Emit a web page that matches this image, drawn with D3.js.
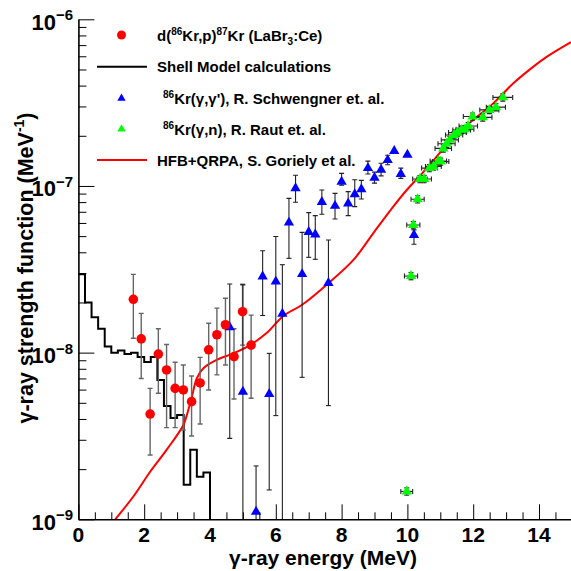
<!DOCTYPE html>
<html>
<head>
<meta charset="utf-8">
<script src="https://cdn.jsdelivr.net/npm/d3@7"></script>
<style>
  body { margin: 0; background: #fff; }
  text { font-family: "Liberation Sans", Arial, sans-serif; font-weight: bold; }
</style>
</head>
<body>
<div id="chart"></div>
<script>
// ---- data ----
// d(86Kr,p)87Kr (LaBr3:Ce)
var expE   = [1.67, 1.91, 2.18, 2.43, 2.68, 2.94, 3.19, 3.44, 3.70, 3.96, 4.21, 4.47, 4.73, 4.99, 5.25];
var expVal = [2.09e-8, 1.21e-8, 4.28e-9, 9.8e-9, 7.87e-9, 6.1e-9, 5.97e-9, 5.08e-9, 6.58e-9, 1.04e-8, 1.28e-8, 1.47e-8, 9.46e-9, 1.76e-8, 1.11e-8];
var expHi  = [2.95e-8, 1.72e-8, 6.1e-9, 1.39e-8, 1.12e-8, 8.75e-9, 8.43e-9, 7.24e-9, 9.37e-9, 1.50e-8, 1.85e-8, 2.12e-8, 1.39e-8, 2.57e-8, 1.68e-8];
var expLo  = [1.22e-8, 7.0e-9, 2.43e-9, 5.7e-9, 3.55e-9, 3.55e-9, 3.43e-9, 3.16e-9, 3.73e-9, 5.97e-9, 7.35e-9, 8.43e-9, 5.27e-9, 1.11e-8, 5.32e-9];

// Shell model histogram, 0.2 MeV bins starting at 0
var smBinStart = [0, 0.2, 0.4, 0.6, 0.8, 1.0, 1.2, 1.4, 1.6, 1.8, 2.0, 2.2, 2.4, 2.6, 2.8, 3.0, 3.2, 3.4, 3.6, 3.8];
var smVal = [2.95e-8, 2.0e-8, 1.63e-8, 1.39e-8, 1.09e-8, 1.0e-8, 1.03e-8, 9.8e-9, 1.0e-8, 9.4e-9, 8.8e-9, 9.4e-9, 6.86e-9, 4.79e-9, 4.06e-9, 4.23e-9, 1.61e-9, 2.61e-9, 1.80e-9, 1.91e-9];
var smEnd = 4.0;

// 86Kr(g,g'), Schwengner
var schE   = [4.6, 5.0, 5.4, 5.6, 5.8, 6.0, 6.2, 6.4, 6.6, 6.8, 7.0, 7.2, 7.4, 7.6, 7.8, 8.0, 8.2, 8.4, 8.6, 8.8, 9.0, 9.2, 9.4, 9.6, 9.8, 10.0, 10.2];
var schVal = [1.42e-8, 5.83e-9, 1.11e-9, 2.86e-8, 5.65e-9, 2.67e-8, 1.71e-8, 6.03e-8, 9.68e-8, 2.96e-8, 5.30e-8, 5.12e-8, 8.02e-8, 2.62e-8, 7.60e-8, 1.06e-7, 7.85e-8, 8.91e-8, 9.55e-8, 1.28e-7, 1.12e-7, 1.25e-7, 1.43e-7, 1.62e-7, 1.18e-7, 1.54e-7, 5.08e-8];
var schHi  = [2.58e-8, 2.55e-8, 2.09e-9, 4.09e-8, 9.9e-9, 4.97e-8, 3.37e-8, 8.43e-8, 1.16e-7, 5.27e-8, 6.92e-8, 6.64e-8, 9.46e-8, 4.74e-8, 9.03e-8, 1.19e-7, 9.25e-8, 1.09e-7, 1.08e-7, 1.41e-7, 1.21e-7, 1.37e-7, 1.53e-7, 1.62e-7, 1.28e-7, 1.54e-7, 5.45e-8];
var schLo  = [3.06e-9, 1e-10, 1e-10, 1.67e-8, 1.50e-9, 4.19e-9, 1e-10, 3.68e-8, 7.98e-8, 7.11e-9, 3.73e-8, 3.63e-8, 6.76e-8, 4.81e-9, 6.34e-8, 1.01e-7, 6.64e-8, 7.52e-8, 8.36e-8, 1.18e-7, 1.04e-7, 1.15e-7, 1.34e-7, 1.62e-7, 1.11e-7, 1.54e-7, 4.47e-8];

// 86Kr(g,n), Raut
var rautE   = [9.98, 10.11, 10.18, 10.31, 10.38, 10.51, 10.67, 10.79, 10.94, 11.01, 11.09, 11.19, 11.29, 11.42, 11.52, 11.65, 11.75, 11.85, 11.98, 12.29, 12.49, 12.69, 12.90];
var rautVal = [1.47e-9, 2.88e-8, 5.83e-8, 8.32e-8, 1.10e-7, 1.10e-7, 1.28e-7, 1.31e-7, 1.41e-7, 1.40e-7, 1.68e-7, 1.79e-7, 1.89e-7, 2.02e-7, 2.09e-7, 2.17e-7, 2.19e-7, 2.29e-7, 2.61e-7, 2.58e-7, 2.86e-7, 2.97e-7, 3.40e-7];
var rautEx  = [0.18, 0.2, 0.2, 0.2, 0.22, 0.22, 0.24, 0.24, 0.25, 0.25, 0.25, 0.26, 0.26, 0.26, 0.27, 0.27, 0.27, 0.28, 0.28, 0.28, 0.29, 0.29, 0.3];
var rautRel = 0.05;

// HFB+QRPA, Goriely
var hfbE   = [1.12, 1.67, 2.18, 2.68, 3.19, 3.34, 3.44, 3.60, 3.80, 4.20, 4.71, 5.22, 5.72, 6.23, 6.79, 7.60, 8.36, 8.96, 9.57, 9.98, 10.38, 10.89, 11.40, 12.0, 12.61, 13.22, 13.83, 14.23, 14.97];
var hfbVal = [1e-9, 1.37e-9, 1.93e-9, 2.61e-9, 3.68e-9, 4.53e-9, 5.32e-9, 7.02e-9, 8.06e-9, 9.04e-9, 9.9e-9, 1.11e-8, 1.31e-8, 1.66e-8, 1.93e-8, 2.61e-8, 3.6e-8, 5.2e-8, 7.52e-8, 9.46e-8, 1.15e-7, 1.50e-7, 1.98e-7, 2.49e-7, 3.13e-7, 4.13e-7, 5.2e-7, 5.95e-7, 7.3e-7];

var xMajor = [0, 2, 4, 6, 8, 10, 12, 14];
var yDecades = [1e-9, 1e-8, 1e-7, 1e-6];
var yExp = ["9", "8", "7", "6"];

// ---- drawing ----
var W = 571, H = 571;
var x = d3.scaleLinear().domain([0, 15]).range([78.4, 571.9]);
var y = d3.scaleLog().domain([1e-9, 1e-6]).range([519.3, 19.3]);

var svg = d3.select("#chart").append("svg")
    .attr("width", W).attr("height", H);

svg.append("clipPath").attr("id", "clip")
  .append("rect")
    .attr("x", x(0)).attr("y", y(1e-6))
    .attr("width", x(15) - x(0)).attr("height", y(1e-9) - y(1e-6));

var plot = svg.append("g").attr("clip-path", "url(#clip)");

// shell model histogram
var smPts = smBinStart.map(function(e, i) { return [e, smVal[i]]; });
smPts.push([smEnd, 1e-10]);
plot.append("path")
    .datum(smPts)
    .attr("fill", "none")
    .attr("stroke", "#000")
    .attr("stroke-width", 2)
    .attr("d", d3.line()
      .x(function(d) { return x(d[0]); })
      .y(function(d) { return y(d[1]); })
      .curve(d3.curveStepAfter));

// HFB curve
plot.append("path")
    .datum(hfbE.map(function(e, i) { return [e, hfbVal[i]]; }))
    .attr("fill", "none")
    .attr("stroke", "#ff0000")
    .attr("stroke-width", 2)
    .attr("d", d3.line()
      .x(function(d) { return x(d[0]); })
      .y(function(d) { return y(d[1]); })
      .curve(d3.curveCatmullRom.alpha(0.5)));

// vertical error bars with caps
function yErrors(g, es, lo, hi, color, w) {
  es.forEach(function(e, i) {
    if (hi[i] <= lo[i]) return;
    var cx = x(e), y1 = y(hi[i]), y2 = y(lo[i]);
    g.append("line").attr("x1", cx).attr("x2", cx).attr("y1", y1).attr("y2", y2)
      .attr("stroke", color).attr("stroke-width", w);
    [y1, y2].forEach(function(yy) {
      g.append("line").attr("x1", cx - 2.5).attr("x2", cx + 2.5).attr("y1", yy).attr("y2", yy)
        .attr("stroke", color).attr("stroke-width", w);
    });
  });
}

var errs = plot.append("g");
yErrors(errs, expE, expLo, expHi, "#666", 1.4);
yErrors(errs, schE, schLo, schHi, "#222", 1.1);

// Raut x and y errors
rautE.forEach(function(e, i) {
  var cy = y(rautVal[i]), x1 = x(e - rautEx[i]), x2 = x(e + rautEx[i]);
  errs.append("line").attr("x1", x1).attr("x2", x2).attr("y1", cy).attr("y2", cy)
    .attr("stroke", "#222").attr("stroke-width", 1.1);
  [x1, x2].forEach(function(xx) {
    errs.append("line").attr("x1", xx).attr("x2", xx).attr("y1", cy - 2.5).attr("y2", cy + 2.5)
      .attr("stroke", "#222").attr("stroke-width", 1.1);
  });
  var cx = x(e), ya = y(rautVal[i] * (1 + rautRel)), yb = y(rautVal[i] * (1 - rautRel));
  errs.append("line").attr("x1", cx).attr("x2", cx).attr("y1", ya).attr("y2", yb)
    .attr("stroke", "#222").attr("stroke-width", 1.1);
  [ya, yb].forEach(function(yy) {
    errs.append("line").attr("x1", cx - 2.5).attr("x2", cx + 2.5).attr("y1", yy).attr("y2", yy)
      .attr("stroke", "#222").attr("stroke-width", 1.1);
  });
});

var tri = d3.symbol().type(d3.symbolTriangle).size(46);

plot.append("g").selectAll("path")
  .data(schE.map(function(e, i) { return [e, schVal[i]]; }))
  .enter().append("path")
    .attr("d", tri)
    .attr("transform", function(d) { return "translate(" + x(d[0]) + "," + y(d[1]) + ")"; })
    .attr("fill", "#0000ff");

plot.append("g").selectAll("path")
  .data(rautE.map(function(e, i) { return [e, rautVal[i]]; }))
  .enter().append("path")
    .attr("d", tri)
    .attr("transform", function(d) { return "translate(" + x(d[0]) + "," + y(d[1]) + ")"; })
    .attr("fill", "#00ff00");

plot.append("g").selectAll("circle")
  .data(expE.map(function(e, i) { return [e, expVal[i]]; }))
  .enter().append("circle")
    .attr("cx", function(d) { return x(d[0]); })
    .attr("cy", function(d) { return y(d[1]); })
    .attr("r", 4.8)
    .attr("fill", "#ff0000");

// axes
var minorX = d3.range(0, 15.01, 0.5).filter(function(v) { return v % 2 !== 0; });
svg.append("g")
    .attr("transform", "translate(0," + y(1e-9) + ")")
    .call(d3.axisBottom(x).tickValues(minorX).tickSize(-7).tickSizeOuter(0).tickFormat(""))
    .call(function(g) { g.select(".domain").remove(); });
svg.append("g")
    .attr("transform", "translate(0," + y(1e-9) + ")")
    .call(d3.axisBottom(x).tickValues(xMajor).tickSize(-15).tickSizeOuter(0).tickFormat(""))
    .call(function(g) { g.select(".domain").attr("stroke-width", 1.6); });

var minorY = [];
[1e-9, 1e-8, 1e-7].forEach(function(dec) {
  for (var k = 2; k <= 9; k++) minorY.push(dec * k);
});
svg.append("g")
    .attr("transform", "translate(" + x(0) + ",0)")
    .call(d3.axisLeft(y).tickValues(minorY).tickSize(-8).tickSizeOuter(0).tickFormat(""))
    .call(function(g) { g.select(".domain").remove(); });
svg.append("g")
    .attr("transform", "translate(" + x(0) + ",0)")
    .call(d3.axisLeft(y).tickValues(yDecades).tickSize(-16).tickSizeOuter(0).tickFormat(""))
    .call(function(g) { g.select(".domain").attr("stroke-width", 1.6); });

// tick labels
xMajor.forEach(function(v) {
  svg.append("text")
    .attr("x", x(v)).attr("y", 541.5)
    .attr("text-anchor", "middle")
    .attr("font-size", 21)
    .text(v);
});
yDecades.forEach(function(v, i) {
  var t = svg.append("text")
    .attr("x", 73).attr("y", y(v) + 10.5)
    .attr("text-anchor", "end");
  t.append("tspan").attr("font-size", 22).text("10");
  t.append("tspan").attr("font-size", 15).attr("dy", -9.5).text("\u2212" + yExp[i]);
});

// axis titles
svg.append("text")
    .attr("x", 323).attr("y", 565)
    .attr("text-anchor", "middle")
    .attr("font-size", 21)
    .text("\u03b3-ray energy (MeV)");

var yt = svg.append("text")
    .attr("transform", "translate(33,268) rotate(-90)")
    .attr("text-anchor", "middle")
    .attr("font-size", 21.5);
yt.append("tspan").text("\u03b3-ray strength function (MeV");
yt.append("tspan").attr("font-size", 14).attr("dy", -9).text("-1");
yt.append("tspan").attr("dy", 9).text(")");

// legend
var leg = svg.append("g");
var legY = [35, 66.7, 98.3, 129, 160];
leg.append("circle").attr("cx", 121.5).attr("cy", legY[0]).attr("r", 4.5).attr("fill", "#ff0000");
leg.append("line").attr("x1", 97).attr("x2", 147).attr("y1", legY[1]).attr("y2", legY[1])
   .attr("stroke", "#000").attr("stroke-width", 2);
leg.append("path").attr("d", d3.symbol().type(d3.symbolTriangle).size(30))
   .attr("transform", "translate(121.5," + legY[2] + ")").attr("fill", "#0000ff");
leg.append("path").attr("d", d3.symbol().type(d3.symbolTriangle).size(30))
   .attr("transform", "translate(121.5," + legY[3] + ")").attr("fill", "#00ff00");
leg.append("line").attr("x1", 97).attr("x2", 147).attr("y1", legY[4]).attr("y2", legY[4])
   .attr("stroke", "#ff0000").attr("stroke-width", 2);

function legText(yc) {
  return leg.append("text").attr("x", 157).attr("y", yc + 5.5).attr("font-size", 15);
}
var t0 = legText(legY[0]);
t0.append("tspan").text("d(");
t0.append("tspan").attr("font-size", 10).attr("dy", -6).text("86");
t0.append("tspan").attr("dy", 6).text("Kr,p)");
t0.append("tspan").attr("font-size", 10).attr("dy", -6).text("87");
t0.append("tspan").attr("dy", 6).text("Kr (LaBr");
t0.append("tspan").attr("font-size", 10).attr("dy", 4).text("3");
t0.append("tspan").attr("dy", -4).text(":Ce)");

legText(legY[1]).text("Shell Model calculations");

var t2 = leg.append("text").attr("x", 163).attr("y", legY[2] + 5.5).attr("font-size", 15);
t2.append("tspan").attr("font-size", 10).attr("dy", -6).text("86");
t2.append("tspan").attr("dy", 6).text("Kr(\u03b3,\u03b3'), R. Schwengner et. al.");

var t3 = leg.append("text").attr("x", 163).attr("y", legY[3] + 5.5).attr("font-size", 15);
t3.append("tspan").attr("font-size", 10).attr("dy", -6).text("86");
t3.append("tspan").attr("dy", 6).text("Kr(\u03b3,n), R. Raut et. al.");

legText(legY[4]).text("HFB+QRPA, S. Goriely et al.");
</script>
</body>
</html>
